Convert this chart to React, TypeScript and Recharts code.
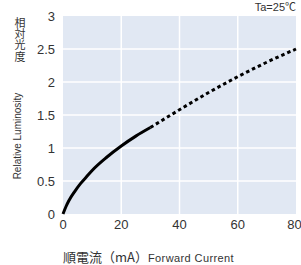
import { LineChart, Line, XAxis, YAxis } from "recharts"

// forward current (mA) vs relative luminosity, Ta=25°C
const solidCurrent = [0, 1, 2, 4, 6, 8, 10, 15, 20, 25, 30]
const solidLum = [0, 0.11, 0.2, 0.34, 0.46, 0.56, 0.66, 0.86, 1.03, 1.18, 1.31]
const dashedCurrent = [30, 40, 50, 60, 70, 80]
const dashedLum = [1.31, 1.58, 1.84, 2.08, 2.3, 2.5]

const xTicks = [0, 20, 40, 60, 80]
const yTicks = [0, 0.5, 1, 1.5, 2, 2.5, 3]

const FONT = "'Liberation Sans', Arial, 'Noto Sans CJK JP', sans-serif"
const JA = "'Noto Sans CJK JP', sans-serif"

const W = 301
const H = 265
const M = { top: 16, right: 5, left: 63, bottom: 51 }

const data = [
  ...solidCurrent.map((x, i) => ({ x, solid: solidLum[i] as number | undefined, dashed: undefined as number | undefined })),
  ...dashedCurrent.slice(1).map((x, i) => ({ x, solid: undefined, dashed: dashedLum[i + 1] })),
]
data[solidCurrent.length - 1].dashed = dashedLum[0]

const xMin = xTicks[0]
const xMax = xTicks[xTicks.length - 1]
const yMin = yTicks[0]
const yMax = yTicks[yTicks.length - 1]

// white grid lines, drawn as simple two-point series
const vGrid = xTicks.slice(1, -1).map((t) => [
  { x: t, g: yMin },
  { x: t, g: yMax },
])
const hGrid = yTicks.slice(1, -1).map((t) => [
  { x: xMin, g: t },
  { x: xMax, g: t },
])

const fmt = (v: number) => String(v)

export default function App() {
  return (
    <div style={{ position: "absolute", left: 0, top: 0, width: W, height: H, background: "#fff", fontFamily: FONT }}>
      {/* plot background */}
      <div
        style={{
          position: "absolute",
          left: M.left,
          top: M.top,
          width: W - M.left - M.right,
          height: H - M.top - M.bottom,
          background: "#e1e8f3",
        }}
      />
      <div style={{ position: "absolute", left: 0, top: 0 }}>
        <LineChart width={W} height={H} data={data} margin={{ top: M.top, right: M.right, left: 0, bottom: 0 }}>
          <XAxis
            dataKey="x"
            type="number"
            domain={[xMin, xMax]}
            ticks={xTicks}
            height={M.bottom}
            axisLine={false}
            tickLine={false}
            tickMargin={0}
            tick={{ fontSize: 13, fill: "#333", fontFamily: FONT }}
            tickFormatter={fmt}
            allowDuplicatedCategory={false}
          />
          <YAxis
            type="number"
            domain={[yMin, yMax]}
            ticks={yTicks}
            width={M.left}
            axisLine={false}
            tickLine={false}
            tickMargin={2}
            tick={{ fontSize: 13, fill: "#333", fontFamily: FONT }}
            tickFormatter={fmt}
          />
          {vGrid.map((d, i) => (
            <Line key={"v" + i} data={d} dataKey="g" type="linear" stroke="#fff" strokeWidth={1.5} dot={false} activeDot={false} legendType="none" isAnimationActive={false} />
          ))}
          {hGrid.map((d, i) => (
            <Line key={"h" + i} data={d} dataKey="g" type="linear" stroke="#fff" strokeWidth={1.5} dot={false} activeDot={false} legendType="none" isAnimationActive={false} />
          ))}
          <Line dataKey="solid" type="monotone" stroke="#000" strokeWidth={3} dot={false} isAnimationActive={false} connectNulls={false} />
          <Line dataKey="dashed" type="monotone" stroke="#000" strokeWidth={3} strokeDasharray="3.5 3" dot={false} isAnimationActive={false} connectNulls={false} />
        </LineChart>
      </div>

      <div
        style={{
          position: "absolute",
          left: 13,
          top: 17,
          writingMode: "vertical-rl",
          fontFamily: JA,
          fontSize: 11,
          letterSpacing: 0.3,
          lineHeight: "14px",
          color: "#333",
        }}
      >
        相対光度
      </div>
      <div
        style={{
          position: "absolute",
          left: 18,
          top: 136,
          transform: "translate(-50%, -50%) rotate(-90deg)",
          whiteSpace: "nowrap",
          fontSize: 10,
          lineHeight: "12px",
          color: "#333",
        }}
      >
        Relative Luminosity
      </div>
      <div style={{ position: "absolute", left: 63, top: 250, whiteSpace: "nowrap", color: "#333", lineHeight: "14px" }}>
        <span style={{ fontFamily: JA, fontSize: 13 }}>順電流（mA）</span>
        <span style={{ fontSize: 11, letterSpacing: 0.4 }}>Forward Current</span>
      </div>
      <div style={{ position: "absolute", right: 5, top: 1, fontSize: 11, lineHeight: "13px", color: "#333" }}>Ta=25℃</div>
    </div>
  )
}
